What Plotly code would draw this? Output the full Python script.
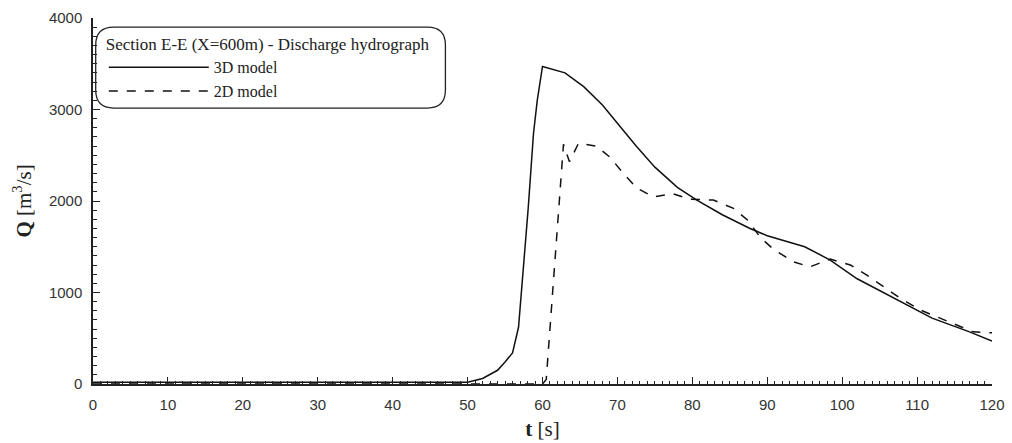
import plotly.graph_objects as go

# 3D model discharge hydrograph
t_3d = [0, 10, 20, 30, 40, 50, 52, 54, 55, 56, 56.8, 57.4, 58.1, 58.8, 59.3, 60,
        63, 65.5, 68, 70, 72.5, 75, 78, 80.6, 84, 87.7, 90, 95, 98.4, 102, 107.7,
        112, 117, 120]
q_3d = [20, 20, 20, 20, 20, 20, 60, 150, 240, 340, 620, 1210, 1930, 2740, 3100, 3470,
        3400, 3250, 3050, 2850, 2600, 2370, 2150, 2010, 1850, 1700, 1620, 1500, 1355,
        1150, 900, 720, 570, 470]

# 2D model discharge hydrograph
t_2d = [0, 60, 60.5, 62.8, 63.6, 64.8, 67.2, 69, 70.8, 72.6, 74.8, 77.4, 79.7, 82.8,
        85.5, 87.4, 89.1, 90.8, 93.5, 95.7, 98.4, 101.1, 103.3, 105.5, 107.7, 110.4,
        114, 117.5, 120]
q_2d = [0, 0, 50, 2620, 2430, 2630, 2600, 2480, 2300, 2140, 2045, 2080, 2020, 2010,
        1920, 1790, 1600, 1475, 1335, 1280, 1365, 1300, 1190, 1060, 940, 810,
        690, 570, 560]

x_ticks = list(range(0, 121, 10))
y_ticks = [0, 1000, 2000, 3000, 4000]

SERIF = "Liberation Serif, Times New Roman, serif"
SANS = "Liberation Sans, Arial, sans-serif"

fig = go.Figure()
fig.add_trace(go.Scatter(x=t_3d, y=q_3d, mode="lines", name="3D model",
                         line=dict(color="#111111", width=1.5, dash="solid")))
fig.add_trace(go.Scatter(x=t_2d, y=q_2d, mode="lines", name="2D model",
                         line=dict(color="#111111", width=1.5, dash="dash")))

axis_common = dict(showgrid=False, zeroline=False, showline=True, linecolor="#222222",
                   linewidth=1.5, ticks="inside", ticklen=7, tickwidth=1.3,
                   tickcolor="#222222", automargin=False,
                   tickfont=dict(family=SANS, size=15, color="#333333"))

fig.update_layout(
    width=1012, height=443,
    margin=dict(l=93, r=20, t=18, b=59),
    paper_bgcolor="white", plot_bgcolor="white",
    xaxis=dict(range=[0, 120], tickvals=x_ticks, ticklabelstandoff=6,
               minor=dict(ticks="inside", ticklen=3, dtick=1, tickcolor="#222222", tickwidth=1),
               title=dict(text="<b>t</b> [s]", standoff=10,
                          font=dict(family=SERIF, size=21, color="#222222")),
               **axis_common),
    yaxis=dict(range=[0, 4000], tickvals=y_ticks, ticklabelstandoff=6,
               minor=dict(ticks="inside", ticklen=4, dtick=100, tickcolor="#222222", tickwidth=1),
               title=dict(text="<b>Q</b> [m<sup>3</sup>/s]", standoff=12,
                          font=dict(family=SERIF, size=21, color="#222222")),
               **axis_common),
    showlegend=True,
    legend=dict(x=0.012, y=0.972, xanchor="left", yanchor="top",
                bgcolor="rgba(0,0,0,0)", borderwidth=0,
                title=dict(text="Section E-E (X=600m) - Discharge hydrograph",
                           font=dict(family=SERIF, size=17, color="#222222")),
                font=dict(family=SERIF, size=16, color="#222222"),
                itemwidth=100, tracegroupgap=0),
)

# rounded legend frame
x0, x1, y0, y1, r = 0.003, 0.392, 0.754, 0.975, 0.02
ry = r * 899 / 366
path = (f"M {x0 + r},{y0} L {x1 - r},{y0} Q {x1},{y0} {x1},{y0 + ry} "
        f"L {x1},{y1 - ry} Q {x1},{y1} {x1 - r},{y1} L {x0 + r},{y1} "
        f"Q {x0},{y1} {x0},{y1 - ry} L {x0},{y0 + ry} Q {x0},{y0} {x0 + r},{y0} Z")
fig.add_shape(type="path", xref="paper", yref="paper", path=path,
              line=dict(color="#222222", width=1.3), fillcolor="rgba(0,0,0,0)", layer="below")

fig.write_html("out.html")
